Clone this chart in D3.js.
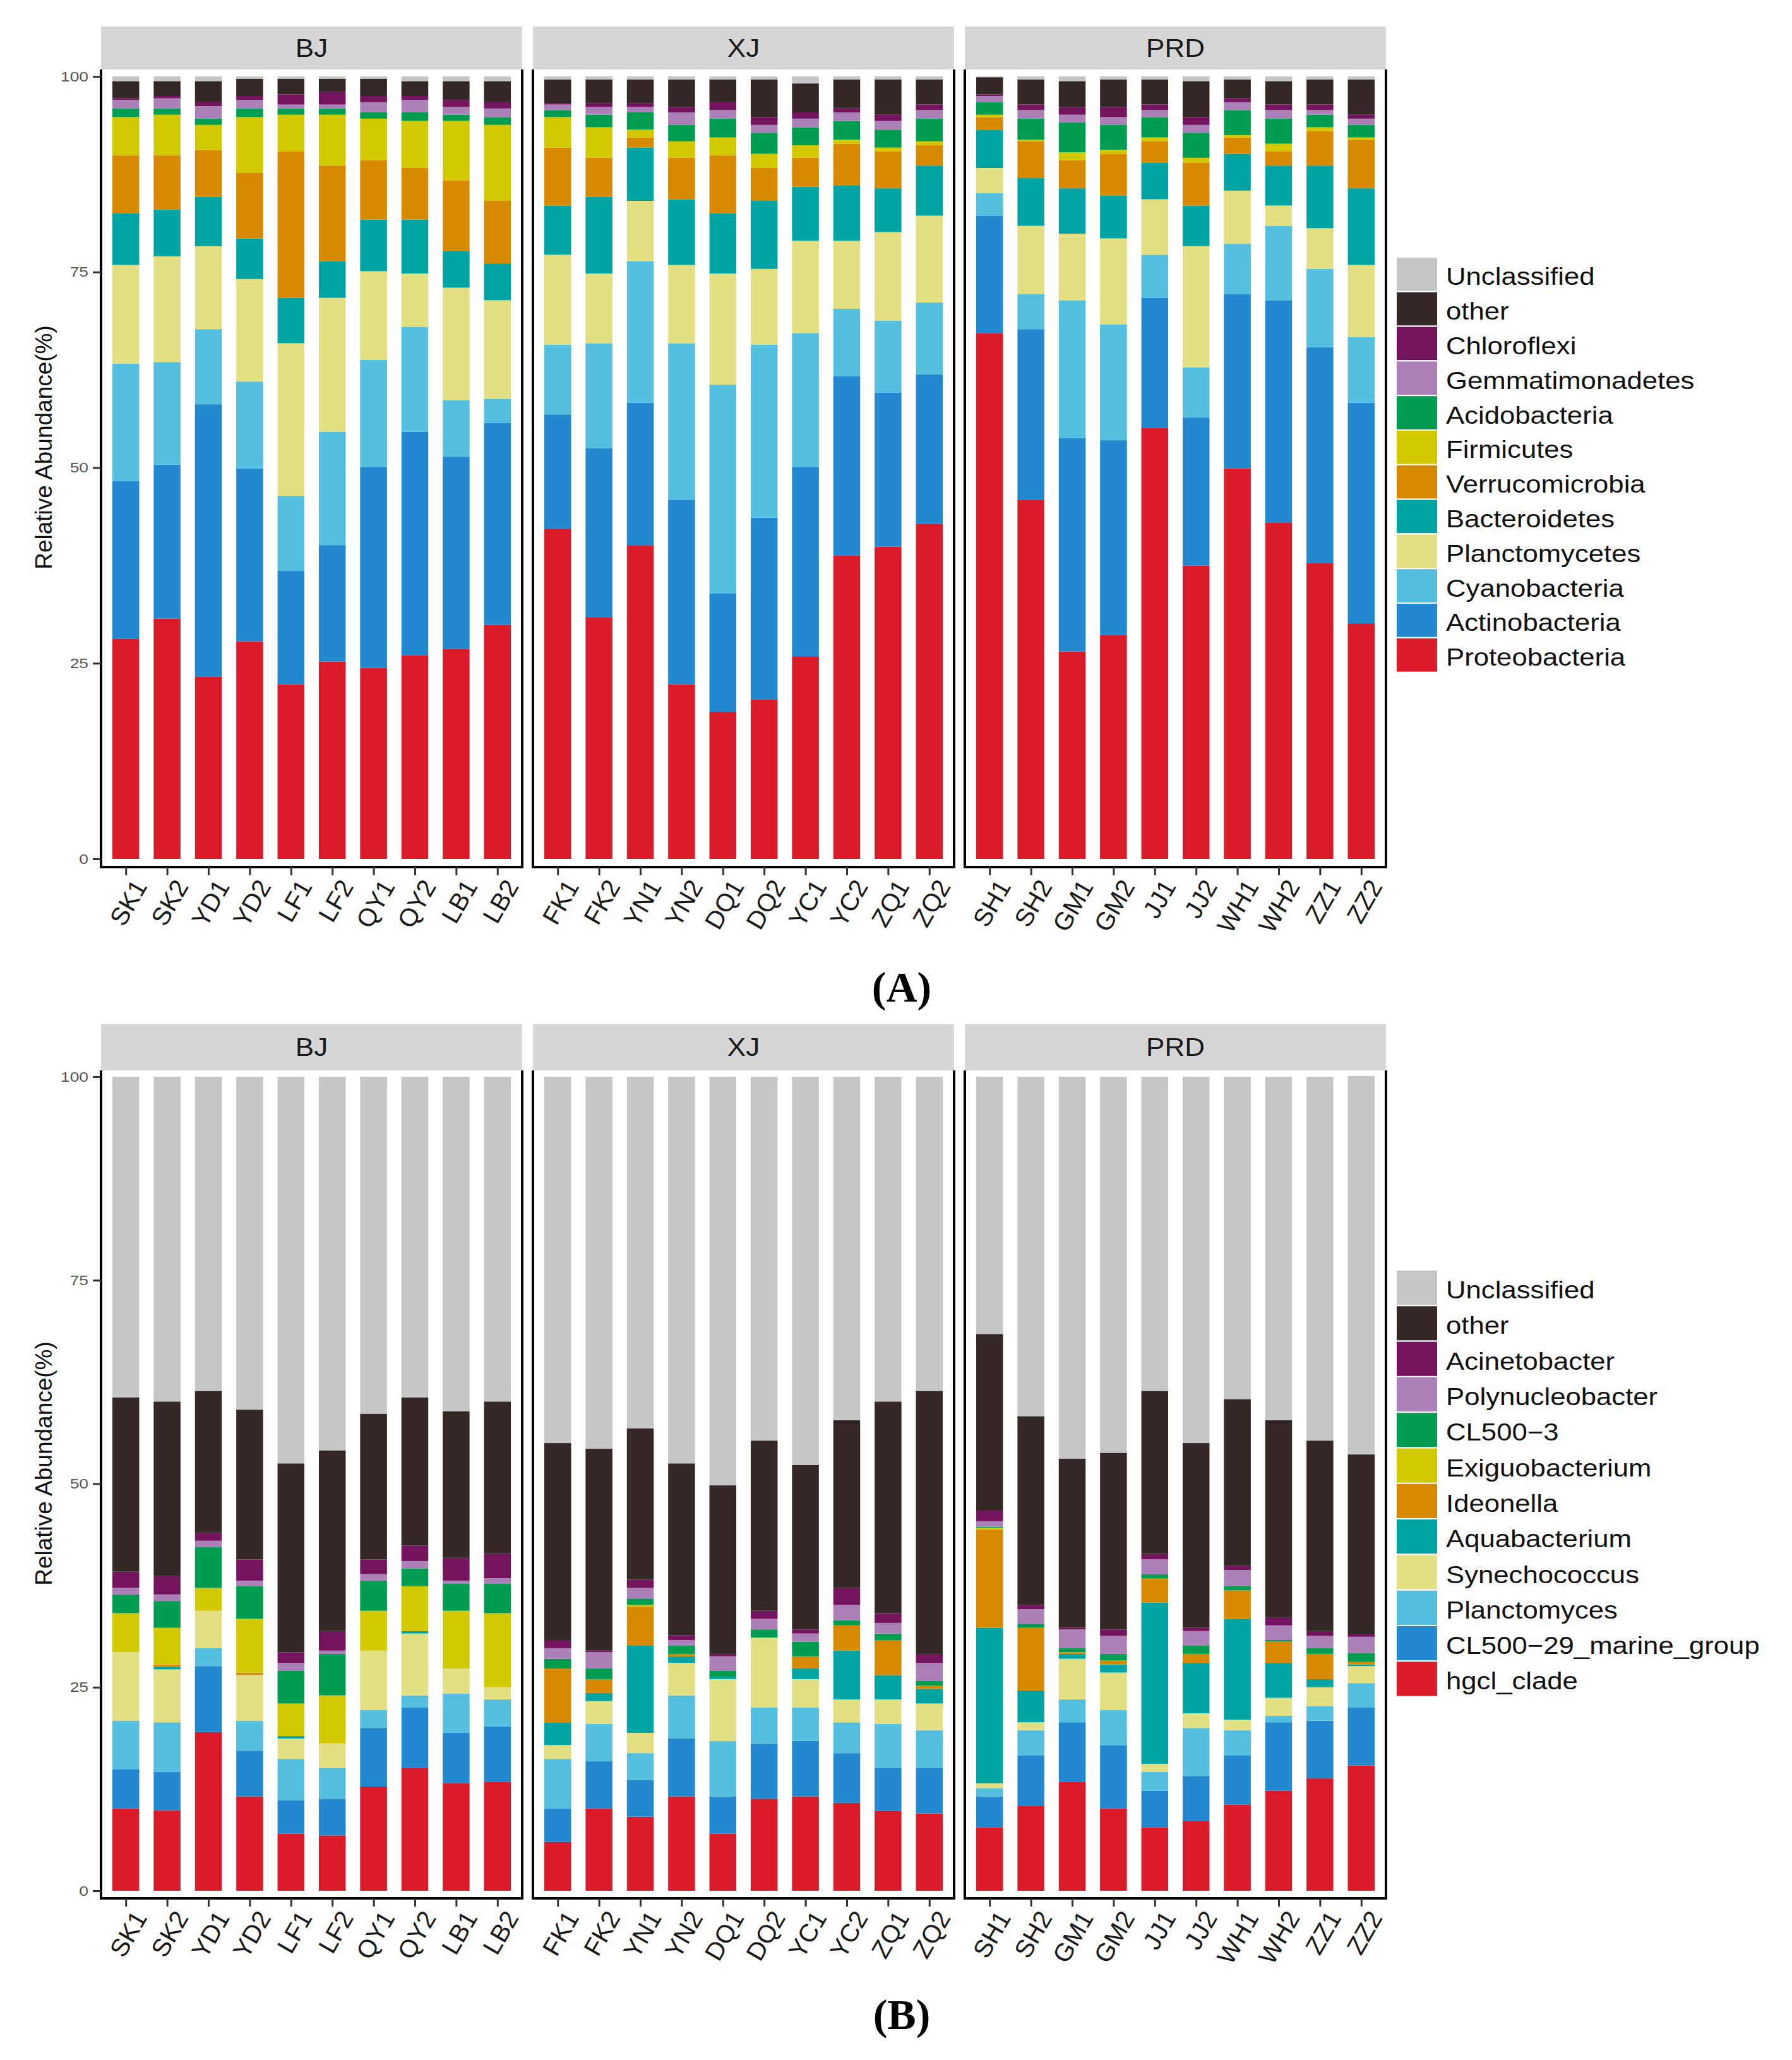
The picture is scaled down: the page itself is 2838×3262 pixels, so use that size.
<!DOCTYPE html>
<html>
<head>
<meta charset="utf-8">
<script src="https://cdn.jsdelivr.net/npm/d3@7"></script>
<style>
  body { margin: 0; background: #fff; }
</style>
</head>
<body>
<svg id="chart"></svg>
<script>
// sample names per region
const regions = ["BJ", "XJ", "PRD"];
const bjSamples = ["SK1", "SK2", "YD1", "YD2", "LF1", "LF2", "QY1", "QY2", "LB1", "LB2"];
const xjSamples = ["FK1", "FK2", "YN1", "YN2", "DQ1", "DQ2", "YC1", "YC2", "ZQ1", "ZQ2"];
const prdSamples = ["SH1", "SH2", "GM1", "GM2", "JJ1", "JJ2", "WH1", "WH2", "ZZ1", "ZZ2"];
const yTicks = [0, 25, 50, 75, 100];

// (A) phylum level, legend order (top to bottom)
const phylumNames = ["Unclassified", "other", "Chloroflexi", "Gemmatimonadetes", "Acidobacteria", "Firmicutes",
  "Verrucomicrobia", "Bacteroidetes", "Planctomycetes", "Cyanobacteria", "Actinobacteria", "Proteobacteria"];
// values in BJ, XJ, PRD sample order
const proteobacteria = [28.1, 30.7, 23.3, 27.8, 22.3, 25.2, 24.4, 26.0, 26.8, 29.9, 42.2, 30.9, 40.1, 22.3, 18.8, 20.4, 25.9, 38.8, 39.9, 42.8, 67.2, 45.9, 26.5, 28.6, 55.1, 37.5, 49.9, 43.0, 37.8, 30.1];
const actinobacteria = [20.2, 19.7, 34.8, 22.1, 14.5, 14.9, 25.7, 28.6, 24.6, 25.8, 14.6, 21.6, 18.2, 23.6, 15.1, 23.2, 24.2, 22.9, 19.7, 19.1, 15.0, 21.8, 27.3, 24.9, 16.6, 18.9, 22.3, 28.4, 27.6, 28.2];
const cyanobacteria = [15.0, 13.1, 9.6, 11.1, 9.6, 14.5, 13.7, 13.4, 7.2, 3.1, 8.9, 13.4, 18.1, 20.0, 26.7, 22.1, 17.1, 8.6, 9.2, 9.2, 2.9, 4.5, 17.6, 14.8, 5.5, 6.4, 6.4, 9.5, 10.0, 8.4];
const planctomycetes = [12.6, 13.5, 10.6, 13.1, 19.5, 17.1, 11.3, 6.8, 14.4, 12.6, 11.5, 8.9, 7.7, 10.0, 14.2, 9.7, 11.8, 8.7, 11.3, 11.1, 3.2, 8.7, 8.5, 11.0, 7.1, 15.5, 6.8, 2.6, 5.2, 9.2];
const bacteroidetes = [6.6, 6.0, 6.3, 5.2, 5.8, 4.7, 6.6, 6.9, 4.7, 4.7, 6.3, 9.8, 6.8, 8.4, 7.7, 8.7, 6.9, 7.1, 5.6, 6.4, 4.9, 6.1, 5.8, 5.5, 4.7, 5.2, 4.7, 5.1, 8.0, 9.8];
const verrucomicrobia = [7.4, 6.9, 6.0, 8.4, 18.7, 12.2, 7.6, 6.6, 9.0, 8.0, 7.4, 5.0, 1.3, 5.3, 7.4, 4.2, 3.7, 5.3, 4.7, 2.6, 1.6, 4.7, 3.6, 5.3, 2.7, 5.5, 2.1, 1.8, 4.4, 6.2];
const firmicutes = [4.9, 5.2, 3.2, 7.1, 4.7, 6.5, 5.3, 6.0, 7.6, 9.7, 3.9, 3.9, 1.0, 2.1, 2.3, 1.8, 1.6, 0.5, 0.5, 0.5, 0.3, 0.2, 1.0, 0.5, 0.5, 0.6, 0.3, 1.0, 0.5, 0.3];
const acidobacteria = [1.1, 0.8, 0.8, 1.1, 0.8, 0.8, 0.8, 1.1, 0.8, 1.0, 0.9, 1.6, 2.2, 2.1, 2.4, 2.7, 2.3, 2.4, 2.3, 2.9, 1.6, 2.7, 3.8, 3.2, 2.6, 3.2, 3.2, 3.2, 1.6, 1.6];
const gemmatimonadetes = [1.1, 1.3, 1.6, 1.1, 0.5, 0.5, 1.3, 1.6, 1.0, 1.1, 0.7, 1.0, 0.7, 1.6, 1.1, 1.0, 1.1, 1.1, 1.1, 1.1, 0.8, 1.1, 1.0, 1.0, 0.9, 1.0, 1.0, 1.1, 0.6, 0.8];
const chloroflexi = [0.2, 0.3, 0.5, 0.5, 1.3, 1.6, 0.8, 0.5, 0.9, 0.8, 0.2, 0.5, 0.5, 0.7, 1.0, 1.0, 0.8, 0.5, 0.8, 0.7, 0.2, 0.7, 1.0, 1.3, 0.7, 1.0, 0.5, 0.7, 0.7, 0.5];
const otherPhyla = [2.2, 1.9, 2.7, 2.2, 2.0, 1.7, 2.2, 1.9, 2.4, 2.7, 3.0, 3.0, 3.0, 3.5, 2.9, 4.8, 3.7, 3.7, 4.5, 3.2, 2.2, 3.2, 3.3, 3.5, 3.2, 4.6, 2.4, 3.0, 3.2, 4.5];
const unclassifiedPhyla = [0.6, 0.6, 0.6, 0.3, 0.3, 0.3, 0.3, 0.6, 0.6, 0.6, 0.4, 0.4, 0.4, 0.4, 0.4, 0.4, 0.9, 0.4, 0.4, 0.4, 0.1, 0.4, 0.6, 0.4, 0.4, 0.6, 0.4, 0.6, 0.4, 0.4];

// (B) genus level, legend order (top to bottom)
const genusNames = ["Unclassified", "other", "Acinetobacter", "Polynucleobacter", "CL500\u22123", "Exiguobacterium",
  "Ideonella", "Aquabacterium", "Synechococcus", "Planctomyces", "CL500\u221229_marine_group", "hgcl_clade"];
const hgclClade = [10.1, 9.9, 19.5, 11.6, 7.0, 6.8, 12.8, 15.1, 13.2, 13.4, 6.0, 10.1, 9.1, 11.6, 7.0, 11.3, 11.6, 10.8, 9.8, 9.5, 7.8, 10.4, 13.4, 10.1, 7.8, 8.6, 10.6, 12.3, 13.8, 15.4];
const cl500_29 = [4.8, 4.7, 8.1, 5.6, 4.1, 4.5, 7.2, 7.4, 6.2, 6.8, 4.1, 5.8, 4.5, 7.1, 4.6, 6.8, 6.8, 6.1, 5.3, 5.6, 3.8, 6.2, 7.3, 7.8, 4.5, 5.5, 6.0, 8.4, 7.1, 7.1];
const planctomyces = [6.0, 6.1, 2.2, 3.7, 5.1, 3.8, 2.2, 1.5, 4.8, 3.3, 6.1, 4.6, 3.3, 5.3, 6.8, 4.4, 4.1, 3.8, 5.4, 4.6, 1.0, 3.1, 2.8, 4.3, 2.3, 5.9, 3.1, 0.8, 1.8, 3.0];
const synechococcus = [8.4, 6.5, 4.6, 5.6, 2.5, 3.0, 7.3, 7.6, 3.1, 1.5, 1.7, 2.8, 2.5, 4.0, 7.6, 8.6, 3.5, 2.8, 3.0, 3.3, 0.6, 1.0, 5.0, 4.6, 1.0, 1.8, 1.3, 2.2, 2.3, 2.1];
const aquabacterium = [0, 0.3, 0, 0, 0.3, 0, 0, 0.3, 0, 0, 2.8, 1.0, 10.7, 0.8, 0.3, 0, 1.3, 6.0, 3.0, 1.8, 19.1, 3.9, 0.6, 1.0, 19.8, 6.2, 12.4, 4.3, 1.0, 0.2];
const ideonella = [0, 0.3, 0, 0.3, 0, 0, 0, 0, 0, 0, 6.6, 1.7, 4.8, 0.3, 0, 0, 1.5, 3.1, 4.3, 0.4, 12.1, 7.7, 0.2, 0.5, 3.0, 1.1, 3.5, 2.6, 3.1, 0.3];
const exiguobacterium = [4.8, 4.5, 2.8, 6.6, 4.0, 5.9, 4.9, 5.5, 7.1, 9.1, 0, 0, 0.2, 0, 0, 0, 0, 0, 0, 0, 0.2, 0, 0, 0, 0, 0, 0, 0, 0, 0];
const cl500_3 = [2.3, 3.3, 5.0, 4.0, 4.0, 5.1, 3.7, 2.2, 3.3, 3.6, 1.2, 1.3, 0.8, 1.0, 0.7, 1.0, 1.8, 0.6, 0.8, 0.6, 0.1, 0.5, 0.5, 0.8, 0.5, 1.0, 0.5, 0.2, 0.7, 1.1];
const polynucleobacter = [0.8, 0.8, 0.8, 0.7, 1.0, 0.4, 0.8, 0.9, 0.4, 0.7, 1.3, 2.0, 1.3, 0.7, 1.8, 1.3, 1.0, 1.9, 1.3, 2.2, 0.7, 1.8, 2.3, 2.2, 1.8, 1.8, 2.0, 1.8, 1.5, 2.0];
const acinetobacter = [2.0, 2.3, 1.0, 2.6, 1.3, 2.4, 1.8, 1.9, 2.8, 3.0, 1.0, 0.2, 1.0, 0.6, 0.3, 1.0, 0.5, 2.1, 1.2, 1.1, 1.3, 0.5, 0.2, 0.8, 0.7, 0.4, 0.5, 1.0, 0.6, 0.3];
const otherGenera = [21.4, 21.4, 17.4, 18.4, 23.2, 22.2, 17.9, 18.2, 18.0, 18.7, 24.2, 24.8, 18.6, 21.1, 20.7, 20.9, 20.2, 20.6, 26.0, 32.3, 21.7, 23.2, 20.8, 21.7, 20.0, 22.7, 20.5, 24.2, 23.4, 22.1];
const unclassifiedGenera = [39.4, 39.9, 38.6, 40.9, 47.5, 45.9, 41.4, 39.4, 41.1, 39.9, 45.0, 45.7, 43.2, 47.5, 50.2, 44.7, 47.7, 42.2, 39.9, 38.6, 31.6, 41.7, 46.9, 46.2, 38.6, 45.0, 39.6, 42.2, 44.7, 46.5];

// shared palette, legend order
const palette = ["#c5c6c5", "#332826", "#74145e", "#ab7fb8", "#009d50", "#d3c900",
  "#d78a00", "#00a5a3", "#e3e084", "#55bfe0", "#2288cf", "#da1c2a"];

const W = 2838, H = 3262;
const svg = d3.select("#chart").attr("width", W).attr("height", H);
svg.append("rect").attr("width", W).attr("height", H).attr("fill", "#fff");

const allSamples = [bjSamples, xjSamples, prdSamples];
const panelX = [[160, 827], [844, 1511], [1528, 2195]];
const FONT = "'Liberation Sans', Arial, sans-serif";

function buildRows(names, series) {
  // series given in legend order, same as names
  const rows = [];
  allSamples.forEach((list, r) => {
    list.forEach((s, i) => {
      const row = { region: regions[r], sample: s };
      names.forEach((n, k) => { row[n] = series[k][r * 10 + i]; });
      rows.push(row);
    });
  });
  return rows;
}

function drawChart(cfg) {
  const keys = cfg.names.slice().reverse(); // stack bottom to top
  const color = d3.scaleOrdinal().domain(cfg.names).range(palette);
  const rows = buildRows(cfg.names, cfg.series);
  const stacked = d3.stack().keys(keys)(rows);

  const y = d3.scaleLinear().domain([0, 100]).range([cfg.y0, cfg.y100]);
  const g = svg.append("g");

  regions.forEach((region, r) => {
    const [x0, x1] = panelX[r];
    const x = d3.scalePoint().domain(allSamples[r]).range([x0, x1]).padding(0.6);
    const bw = x.step() * 0.65;

    // strip
    g.append("rect").attr("x", x0).attr("y", cfg.stripTop)
      .attr("width", x1 - x0).attr("height", cfg.panelTop - cfg.stripTop)
      .attr("fill", "#d6d6d6");
    g.append("text")
      .attr("transform", `translate(${(x0 + x1) / 2},${(cfg.stripTop + cfg.panelTop) / 2}) scale(1.1,1)`)
      .attr("text-anchor", "middle").attr("dominant-baseline", "central")
      .attr("font-family", FONT).attr("font-size", 40).attr("fill", "#1a1a1a")
      .text(region);

    // bars
    const pg = g.append("g");
    stacked.forEach(layer => {
      pg.selectAll(null)
        .data(layer.filter(d => d.data.region === region && d[1] - d[0] > 0))
        .join("rect")
        .attr("x", d => x(d.data.sample) - bw / 2)
        .attr("width", bw)
        .attr("y", d => y(d[1]))
        .attr("height", d => y(d[0]) - y(d[1]))
        .attr("fill", color(layer.key));
    });

    // panel border: left, bottom, right (strip sits on top)
    g.append("path")
      .attr("d", `M${x0},${cfg.panelTop}V${cfg.panelBottom}H${x1}V${cfg.panelTop}`)
      .attr("fill", "none").attr("stroke", "#000").attr("stroke-width", 4);

    // x axis
    const xa = g.append("g").attr("transform", `translate(0,${cfg.panelBottom})`)
      .call(d3.axisBottom(x).tickSize(13).tickFormat(""));
    xa.select(".domain").remove();
    xa.selectAll(".tick line").attr("stroke", "#333").attr("stroke-width", 3);
    g.selectAll(null).data(allSamples[r]).join("text")
      .attr("transform", s => `translate(${x(s) + 10},${cfg.panelBottom + 16}) rotate(-60)`)
      .attr("text-anchor", "end").attr("dominant-baseline", "hanging")
      .attr("font-family", FONT).attr("font-size", 40).attr("fill", "#1a1a1a")
      .text(s => s);

    // y axis on first panel only
    if (r === 0) {
      const ya = g.append("g").attr("transform", `translate(${x0},0)`)
        .call(d3.axisLeft(y).tickValues(yTicks).tickSize(13).tickFormat(""));
      ya.select(".domain").remove();
      ya.selectAll(".tick line").attr("stroke", "#333").attr("stroke-width", 3);
      g.selectAll(null).data(yTicks).join("text")
        .attr("transform", v => `translate(${x0 - 20},${y(v)}) scale(1.2,1)`)
        .attr("text-anchor", "end").attr("dominant-baseline", "central")
        .attr("font-family", FONT).attr("font-size", 22).attr("fill", "#555")
        .text(v => v);
    }
  });

  // y title
  g.append("text")
    .attr("transform", `translate(69,${(cfg.y0 + cfg.y100) / 2 - 32}) rotate(-90)`)
    .attr("text-anchor", "middle").attr("dominant-baseline", "central")
    .attr("font-family", FONT).attr("font-size", 37).attr("fill", "#111")
    .text("Relative Abundance(%)");

  // legend
  const lg = g.append("g");
  cfg.names.forEach((n, i) => {
    const ly = cfg.legendTop + i * cfg.legendStep;
    lg.append("rect").attr("x", 2211).attr("y", ly).attr("width", 66).attr("height", cfg.legendStep)
      .attr("fill", color(n)).attr("stroke", "#fff").attr("stroke-width", 2);
    lg.append("text")
      .attr("transform", `translate(2290,${ly + cfg.legendStep / 2 + 4}) scale(1.15,1)`)
      .attr("dominant-baseline", "central")
      .attr("font-family", FONT).attr("font-size", 38).attr("fill", "#111")
      .text(n);
  });

  // panel letter
  g.append("text").attr("x", 1428).attr("y", cfg.letterY)
    .attr("text-anchor", "middle").attr("dominant-baseline", "central")
    .attr("font-family", "'Liberation Serif', 'Times New Roman', serif")
    .attr("font-weight", "bold").attr("font-size", 68).attr("fill", "#000")
    .text(cfg.letter);
}

drawChart({
  names: phylumNames,
  series: [unclassifiedPhyla, otherPhyla, chloroflexi, gemmatimonadetes, acidobacteria, firmicutes,
    verrucomicrobia, bacteroidetes, planctomycetes, cyanobacteria, actinobacteria, proteobacteria],
  stripTop: 42, panelTop: 110, panelBottom: 1373, y100: 121, y0: 1360,
  legendTop: 407, legendStep: 54.8, letter: "(A)", letterY: 1563
});

drawChart({
  names: genusNames,
  series: [unclassifiedGenera, otherGenera, acinetobacter, polynucleobacter, cl500_3, exiguobacterium,
    ideonella, aquabacterium, synechococcus, planctomyces, cl500_29, hgclClade],
  stripTop: 1622, panelTop: 1695, panelBottom: 3006, y100: 1705, y0: 2994,
  legendTop: 2011, legendStep: 56.3, letter: "(B)", letterY: 3190
});
</script>
</body>
</html>
